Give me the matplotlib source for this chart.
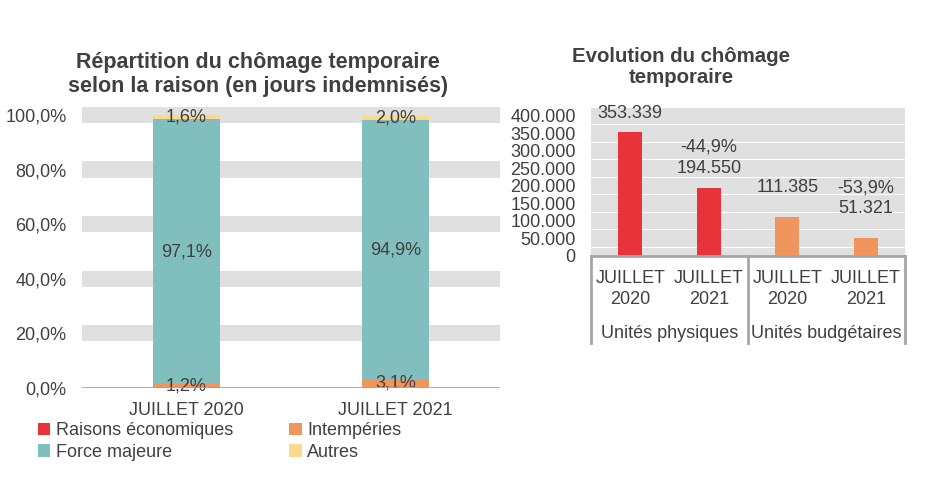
import matplotlib
matplotlib.use("Agg")
import matplotlib.pyplot as plt
from matplotlib.patches import Patch
from matplotlib.lines import Line2D
import numpy as np

plt.rcParams['font.family'] = ['Liberation Sans', 'DejaVu Sans']

# ---- data: left chart (share of indemnified days, %) ----
periods = ["JUILLET 2020", "JUILLET 2021"]
reasons = ["Raisons économiques", "Intempéries", "Force majeure", "Autres"]
raisons_eco = [0.1, 0.0]
intemperies = [1.2, 3.1]
force_majeure = [97.1, 94.9]
autres = [1.6, 2.0]
left_ticks = [0, 20, 40, 60, 80, 100]

# ---- data: right chart (temporary unemployment) ----
right_periods = ["JUILLET\n2020", "JUILLET\n2021", "JUILLET\n2020", "JUILLET\n2021"]
groups = ["Unités physiques", "Unités budgétaires"]
physiques = [353339, 194550]
budgetaires = [111385, 51321]
right_ticks = [0, 50000, 100000, 150000, 200000, 250000, 300000, 350000, 400000]

C_RED = "#E8333A"
C_ORANGE = "#F0965D"
C_TEAL = "#80BFBE"
C_YELLOW = "#FDD98B"
C_BAND = "#E0E0E0"
C_AXIS = "#A6A6A6"
C_TEXT = "#404040"
FS = 13

fig = plt.figure(figsize=(9.45, 4.8), dpi=100)

def fmt_pct(v):
    return f"{v:.1f}%".replace(".", ",")

def fmt_int(v):
    return f"{v:,}".replace(",", ".")

# ================= LEFT CHART =================
axL = fig.add_axes([0.0868, 0.1923, 0.4423, 0.5852])
xL = np.arange(len(periods))
for t in left_ticks:
    if t > 0:
        axL.axhspan(t - 2.95, t + 2.95, color=C_BAND, lw=0, zorder=0)
series = [raisons_eco, intemperies, force_majeure, autres]
colors = [C_RED, C_ORANGE, C_TEAL, C_YELLOW]
bottom = np.zeros(len(periods))
for vals, col in zip(series, colors):
    vals = np.array(vals, dtype=float)
    axL.bar(xL, vals, width=0.316, bottom=bottom, color=col, zorder=2, lw=0)
    for i, v in enumerate(vals):
        if v >= 1:
            axL.text(xL[i], bottom[i] + v / 2, fmt_pct(v), ha="center", va="center",
                     fontsize=FS, color=C_TEXT, zorder=3)
    bottom += vals
axL.axhline(0, color=C_AXIS, lw=2, zorder=3)
axL.set_xlim(-0.5, 1.5)
axL.set_ylim(0, 103)
axL.set_yticks(left_ticks)
axL.set_yticklabels([fmt_pct(t) for t in left_ticks], fontsize=FS, color=C_TEXT)
axL.set_xticks(xL)
axL.set_xticklabels(periods, fontsize=FS, color=C_TEXT)
axL.tick_params(length=0, pad=10)
axL.tick_params(axis="y", pad=11)
for s in axL.spines.values():
    s.set_visible(False)

fig.text(0.273, 0.844, "Répartition du chômage temporaire\nselon la raison (en jours indemnisés)",
         ha="center", va="center", fontsize=15.5, fontweight="bold", color=C_TEXT, linespacing=1.2)

# legend laid out row by row as in the reference
order = [0, 2, 1, 3]
handles = [Patch(facecolor=colors[k], edgecolor="none") for k in order]
fig.legend(handles, [reasons[k] for k in order], loc="upper left", bbox_to_anchor=(0.040, 0.12),
           ncol=2, frameon=False, fontsize=FS, handlelength=0.7, handleheight=0.7,
           handletextpad=0.3, columnspacing=3.1, labelspacing=0.25, borderpad=0,
           borderaxespad=0, labelcolor=C_TEXT)

# ================= RIGHT CHART =================
axR = fig.add_axes([0.6254, 0.4667, 0.3323, 0.3104])
valsR = physiques + budgetaires
colsR = [C_RED, C_RED, C_ORANGE, C_ORANGE]
xR = np.arange(len(valsR))
for t in right_ticks:
    if t > 0:
        axR.axhspan(t - 23500, t + 23500, color=C_BAND, lw=0, zorder=0)
axR.axhspan(0, 23500, color=C_BAND, lw=0, zorder=0)
axR.bar(xR, valsR, width=0.30, color=colsR, zorder=2, lw=0)
chg_phys = (physiques[1] - physiques[0]) / physiques[0] * 100
chg_budg = (budgetaires[1] - budgetaires[0]) / budgetaires[0] * 100
labelsR = [fmt_int(physiques[0]), fmt_pct(chg_phys) + "\n" + fmt_int(physiques[1]),
           fmt_int(budgetaires[0]), fmt_pct(chg_budg) + "\n" + fmt_int(budgetaires[1])]
label_offsets = [7, 8, 15, 15]
for i, (v, lab) in enumerate(zip(valsR, labelsR)):
    axR.annotate(lab, (xR[i], v), xytext=(0, label_offsets[i]), textcoords="offset points",
                 ha="center", va="bottom", fontsize=FS, color=C_TEXT, linespacing=1.3,
                 annotation_clip=False, zorder=3)
axR.set_xlim(-0.5, 3.5)
axR.set_ylim(0, 425000)
axR.set_yticks(right_ticks)
axR.set_yticklabels([fmt_int(t) for t in right_ticks], fontsize=FS, color=C_TEXT)
axR.set_xticks(xR)
axR.set_xticklabels(right_periods, fontsize=FS, color=C_TEXT, linespacing=1.3)
axR.tick_params(length=0, pad=10)
axR.tick_params(axis="y", pad=11)
for s in axR.spines.values():
    s.set_visible(False)
axR.axhline(0, color=C_AXIS, lw=2, zorder=3, clip_on=False)
# group separators and labels
trans = axR.get_xaxis_transform()
for xb in [-0.5, 1.5, 3.5]:
    axR.add_line(Line2D([xb, xb], [0, -0.585], transform=trans, color=C_AXIS, lw=2,
                        clip_on=False))
for gi, g in enumerate(groups):
    axR.text(0.5 + 2 * gi, -0.52, g, transform=trans, ha="center", va="center",
             fontsize=FS, color=C_TEXT)

fig.text(0.721, 0.860, "Evolution du chômage\ntemporaire", ha="center", va="center",
         fontsize=14.7, fontweight="bold", color=C_TEXT, linespacing=1.15)

fig.savefig("out.png", dpi=100)
